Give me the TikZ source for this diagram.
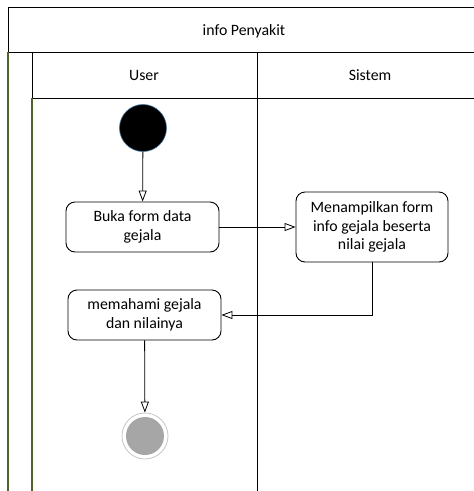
\documentclass[tikz,border=0pt]{standalone}
\usepackage{fontspec}
\setmainfont{Carlito}
\usepackage{tikz}
\usetikzlibrary{arrows.meta}
\definecolor{lanegreen}{RGB}{79,98,40}
\definecolor{startblue}{RGB}{65,113,156}
\tikzset{
    lane/.style={line width=1pt},
    act/.style={draw, rounded corners=9pt, line width=0.9pt, align=center,
        inner sep=2pt, minimum width=153pt},
    flow/.style={-{Triangle[open,length=11pt,width=8pt]}, line width=0.8pt}
}

\begin{document}
\begin{tikzpicture}[x=1pt, y=-1pt, font=\fontsize{15.8}{18.8}\selectfont]
        \useasboundingbox (0,0) rectangle (474,491);
        % swimlane frame
        \draw[lane] (474,7)--(8,7)--(8,52)--(474,52);
        \draw[lane] (32,52)--(32,98)--(474,98);
        \draw[lane] (257,52)--(257,491);
        \foreach \x in {8,32}{
            \draw[lanegreen, line width=1.2pt](\x,98)--(\x,491);
        }
        \draw[lanegreen, line width=1.2pt](8,52)--(8,98);
        \node (judul) at (244,31) {info Penyakit};
        \node (user) at (144,75) {User};
        \node (sistem) at (370,75) {Sistem};
        % activities
        \node[circle, fill=black, draw=startblue, line width=0.6pt, minimum size=47pt] (mulai) at (143,128) {};
        \node[act, minimum height=50pt] (buka) at (142.5,227) {Buka form data\\gejala};
        \node[act, minimum height=70pt, minimum width=152pt] (tampil) at (372,227) {Menampilkan form\\info gejala beserta\\nilai gejala};
        \node[act, minimum height=50pt] (paham) at (144.5,315) {memahami gejala\\dan nilainya};
        \node[circle, draw=gray!45, line width=0.8pt, minimum size=46pt] (selesai) at (145,436) {};
        \fill[gray!70] (selesai.center) circle (19);
        % flows
        \draw[flow] (mulai)--(buka);
        \draw[flow] (buka)--(tampil);
        \draw[flow] (tampil.south) |- (paham.east);
        \draw[flow] (paham)--(selesai);
    \end{tikzpicture}
\end{document}
